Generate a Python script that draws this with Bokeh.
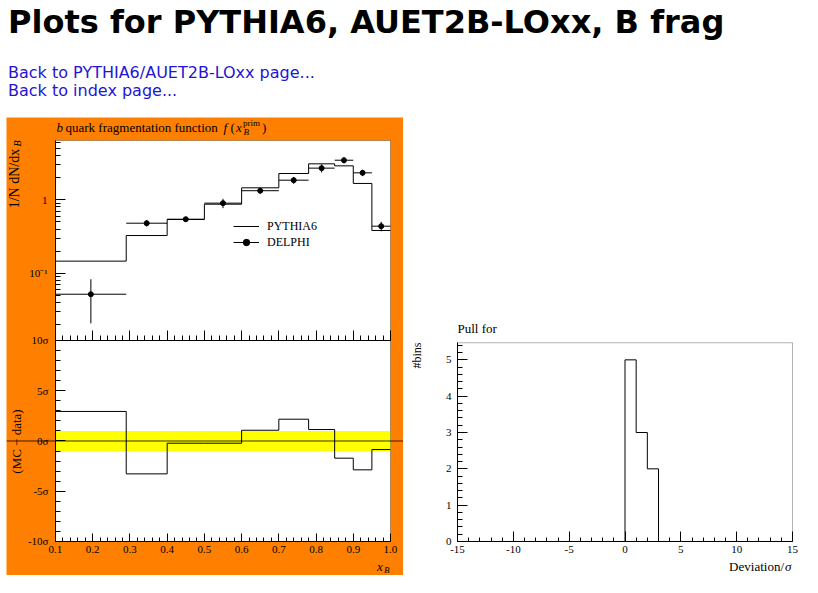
import numpy as np
from math import pi
from bokeh.plotting import figure
from bokeh.models import (Range1d, LinearAxis, LogAxis, LogScale, FixedTicker,
                          CustomJSTickFormatter, PrintfTickFormatter, Label, Legend,
                          LegendItem, BoxAnnotation, Span, Div)
from bokeh.layouts import row, column
from bokeh.embed import file_html
from bokeh.resources import INLINE

# ---------------- data ----------------
mc_edges = [0.1, 0.29, 0.4, 0.5, 0.6, 0.7, 0.78, 0.85, 0.9, 0.95, 1.0]
mc_values = [0.146, 0.326, 0.539, 0.871, 1.456, 2.28, 3.09, 2.90, 1.67, 0.382]
data_x = [0.195, 0.345, 0.45, 0.55, 0.65, 0.74, 0.815, 0.875, 0.925, 0.975]
data_y = [0.0517, 0.48, 0.544, 0.90, 1.33, 1.85, 2.70, 3.46, 2.33, 0.437]
data_yerr = [0.031, 0.047, 0.03, 0.13, 0.118, 0.2, 0.34, 0.33, 0.23, 0.065]
deviation = [2.94, -3.27, -0.22, -0.22, 1.07, 2.17, 1.14, -1.71, -2.87, -0.85]
pull_edges = [-15, -14, -13, -12, -11, -10, -9, -8, -7, -6, -5, -4, -3, -2, -1, 0,
              1, 2, 3, 4, 5, 6, 7, 8, 9, 10, 11, 12, 13, 14, 15]
pull_counts = [0, 0, 0, 0, 0, 0, 0, 0, 0, 0, 0, 0, 0, 0, 0,
               5, 3, 2, 0, 0, 0, 0, 0, 0, 0, 0, 0, 0, 0, 0]

x_ticks = [0.1, 0.2, 0.3, 0.4, 0.5, 0.6, 0.7, 0.8, 0.9, 1.0]
ratio_ticks = [-10, -5, 0, 5, 10]
ratio_labels = {-10: "-10σ", -5: "-5σ", 0: "0σ", 5: "5σ", 10: "10σ"}
log_ticks = [0.1, 1]
log_labels = {0.1: "10⁻¹", 1: "1"}
pull_x_ticks = [-15, -10, -5, 0, 5, 10, 15]
pull_y_ticks = [0, 1, 2, 3, 4, 5]

# panel extents
X_LO, X_HI = 0.1, 1.0
R_LO, R_HI = -10, 10
LOG_LO, LOG_HI = 0.01211, 6.427
PX_LO, PX_HI = -15, 15
PY_LO, PY_HI = 0, 5.47

FONT = "Liberation Serif"
ORANGE = "#ff8000"


def style_axis(ax, maj_in, min_in, standoff):
    ax.major_tick_in = maj_in
    ax.major_tick_out = 0
    ax.minor_tick_in = min_in
    ax.minor_tick_out = 0
    ax.major_label_text_font = FONT
    ax.major_label_text_font_size = "11px"
    ax.major_label_text_color = "black"
    ax.major_label_standoff = standoff
    ax.axis_line_color = "black"
    ax.major_tick_line_color = "black"
    ax.minor_tick_line_color = "black"


def lab(fig, text, x, y, size="13px", style="normal", align="left",
        baseline="alphabetic", angle=0):
    fig.add_layout(Label(text=text, x=x, y=y, x_units="screen", y_units="screen",
                         text_font=FONT, text_font_size=size, text_font_style=style,
                         text_align=align, text_baseline=baseline, angle=angle,
                         text_color="black"))


# ---------------- main (orange) plot: frame = whole canvas ----------------
p = figure(width=397, height=458, x_range=Range1d(-0.03164, 1.03493),
           y_range=Range1d(-13.3831, 32.189),
           x_axis_type=None, y_axis_type=None, output_backend="svg",
           toolbar_location=None, min_border=0, border_fill_color=ORANGE,
           background_fill_color=ORANGE, outline_line_color=None)
p.title.visible = False
p.margin = (0, 0, 0, 6)
p.extra_y_ranges = {"log": Range1d(7.61e-6, 13.22)}
p.extra_y_scales = {"log": LogScale()}

# white panels
p.add_layout(BoxAnnotation(left=X_LO, right=X_HI, bottom=R_LO, top=R_HI,
                           fill_color="white", fill_alpha=1, line_alpha=0, level="underlay"))
p.add_layout(BoxAnnotation(left=X_LO, right=X_HI, bottom=LOG_LO, top=LOG_HI,
                           y_range_name="log", fill_color="white", fill_alpha=1,
                           line_alpha=0, level="underlay"))
# +-1 sigma band
p.add_layout(BoxAnnotation(left=X_LO, right=X_HI, bottom=-1, top=1, fill_color="#ffff00",
                           fill_alpha=1, line_alpha=0, level="underlay"))
# panel outlines
p.add_layout(BoxAnnotation(left=X_LO, right=X_HI, bottom=R_LO, top=R_HI, fill_alpha=0,
                           line_color="black", line_width=1, level="overlay"))
p.add_layout(BoxAnnotation(left=X_LO, right=X_HI, bottom=LOG_LO, top=LOG_HI,
                           y_range_name="log", fill_alpha=0, line_color="black",
                           line_width=1, level="overlay"))

x_minor = [round(v, 2) for v in np.arange(0.1, 1.0001, 0.02) if round(v * 10, 6) % 1 != 0]
ax_b = LinearAxis(ticker=FixedTicker(ticks=x_ticks, minor_ticks=x_minor),
                  fixed_location=R_LO, bounds=(X_LO, X_HI),
                  formatter=PrintfTickFormatter(format="%.1f"))
style_axis(ax_b, 8, 4, 5)
p.add_layout(ax_b, "below")

ax_mid = LinearAxis(ticker=FixedTicker(ticks=x_ticks, minor_ticks=x_minor),
                    fixed_location=R_HI, bounds=(X_LO, X_HI),
                    formatter=CustomJSTickFormatter(code="return ''"))
style_axis(ax_mid, 10, 5, 0)
p.add_layout(ax_mid, "below")

r_minor = [v for v in range(-9, 10) if v % 5 != 0]
ax_r = LinearAxis(ticker=FixedTicker(ticks=ratio_ticks, minor_ticks=r_minor),
                  fixed_location=X_LO, bounds=(R_LO, R_HI),
                  major_label_overrides=ratio_labels)
style_axis(ax_r, 10, 5, 7)
p.add_layout(ax_r, "left")

l_minor = [k * 10.0 ** e for e in (-2, -1, 0) for k in range(2, 10) if k * 10.0 ** e < 6.4]
ax_l = LogAxis(y_range_name="log", fixed_location=X_LO,
               ticker=FixedTicker(ticks=log_ticks, minor_ticks=l_minor),
               bounds=(LOG_LO, LOG_HI), major_label_overrides=log_labels)
style_axis(ax_l, 10, 5, 8)
p.add_layout(ax_l, "left")

p.add_layout(Span(location=0, dimension="width", line_color="black", line_width=0.8))

r_dev = p.step(x=mc_edges, y=deviation + [deviation[-1]], mode="after",
               line_color="black", line_width=1)
r_mc = p.step(x=mc_edges, y=mc_values + [mc_values[-1]], mode="after",
              line_color="black", line_width=1, y_range_name="log")
r_xe = p.segment(x0=mc_edges[:-1], x1=mc_edges[1:], y0=data_y, y1=data_y,
                 line_color="black", line_width=1, y_range_name="log")
r_ye = p.segment(x0=data_x, x1=data_x,
                 y0=[y - e for y, e in zip(data_y, data_yerr)],
                 y1=[y + e for y, e in zip(data_y, data_yerr)],
                 line_color="black", line_width=1, y_range_name="log")
r_pt = p.scatter(x=data_x, y=data_y, size=5, color="black", y_range_name="log")

legend = Legend(items=[LegendItem(label="PYTHIA6", renderers=[r_mc]),
                       LegendItem(label="DELPHI", renderers=[r_xe, r_pt])],
                location=(227, 325), background_fill_alpha=0, border_line_color=None,
                padding=0, margin=0, spacing=0, glyph_width=26, glyph_height=16,
                label_height=16, label_standoff=8, label_text_font=FONT,
                label_text_font_size="12px", label_text_baseline="middle",
                label_text_color="black")
p.add_layout(legend)

# texts (screen units: page x - 6, 575 - page y)
lab(p, "b", 50, 448, style="italic")
lab(p, "quark fragmentation function", 59, 448)
lab(p, "f", 217, 448, style="italic")
lab(p, "(", 224, 448)
lab(p, "x", 229.5, 448, style="italic")
lab(p, "prim", 236.5, 453, size="9px")
lab(p, "B", 237, 444, size="9px", style="italic")
lab(p, ")", 255.5, 448)

lab(p, "1/N dN/dx", 8, 426.7, size="14px", align="right", baseline="middle", angle=pi / 2)
lab(p, "B", 11, 435, size="10px", style="italic", align="right", baseline="middle", angle=pi / 2)
lab(p, "(MC − data)", 10, 134, size="13px", align="center", baseline="middle", angle=pi / 2)

lab(p, "x", 370.5, 9, style="italic")
lab(p, "B", 377.5, 6, size="9px", style="italic")

# ---------------- pull plot: frame = whole canvas ----------------
q = figure(width=407, height=458, x_range=Range1d(-19.836, 16.612),
           y_range=Range1d(-0.9359, 11.6708),
           x_axis_type=None, y_axis_type=None, output_backend="svg",
           toolbar_location=None, min_border=0, border_fill_color="white",
           background_fill_color="white", outline_line_color=None)
q.title.visible = False

q.add_layout(BoxAnnotation(left=PX_LO, right=PX_HI, bottom=PY_LO, top=PY_HI, fill_alpha=0,
                           line_color="black", line_width=1, level="overlay"))

qx = LinearAxis(ticker=FixedTicker(ticks=pull_x_ticks,
                                   minor_ticks=[v for v in range(-14, 15) if v % 5 != 0]),
                fixed_location=PY_LO, bounds=(PX_LO, PX_HI),
                formatter=PrintfTickFormatter(format="%d"))
style_axis(qx, 10, 4, 5)
q.add_layout(qx, "below")
qy = LinearAxis(ticker=FixedTicker(ticks=pull_y_ticks,
                                   minor_ticks=[round(v, 1) for v in np.arange(0.2, 5.45, 0.2)
                                                if abs(v - round(v)) > 1e-6]),
                fixed_location=PX_LO, bounds=(PY_LO, PY_HI),
                formatter=PrintfTickFormatter(format="%d"))
style_axis(qy, 10, 5, 6)
q.add_layout(qy, "left")

q.step(x=pull_edges, y=pull_counts + [pull_counts[-1]], mode="after",
       line_color="black", line_width=1)

# texts (screen units: page x - 403, 575 - page y)
lab(q, "Pull for", 54, 247.5)
lab(q, "#bins", 13.5, 233, size="12px", align="right", baseline="middle", angle=pi / 2)
lab(q, "Deviation/", 380.5, 9, align="right")
lab(q, "σ", 388, 9, style="italic", align="right")

# ---------------- header ----------------
header_html = (
    '<div style="position:relative;width:802px;height:109px;font-family:\'DejaVu Sans\';">'
    '<div style="position:absolute;left:0;top:-2px;font-weight:bold;font-size:32px;'
    'line-height:32px;white-space:nowrap;color:#000;">Plots for PYTHIA6, AUET2B-LOxx, B frag</div>'
    '<div style="position:absolute;left:0;top:55.5px;font-size:16px;line-height:18.5px;'
    'white-space:nowrap;color:#2414d4;">Back to PYTHIA6/AUET2B-LOxx page...<br>'
    'Back to index page...</div></div>'
)
header = Div(text=header_html, width=802, height=109, margin=(8, 0, 0, 8))

layout = column(header, row(p, q, spacing=0), spacing=0)

html = file_html(layout, INLINE, title="Plots for PYTHIA6, AUET2B-LOxx, B frag")
with open("out.html", "w") as f:
    f.write(html)
